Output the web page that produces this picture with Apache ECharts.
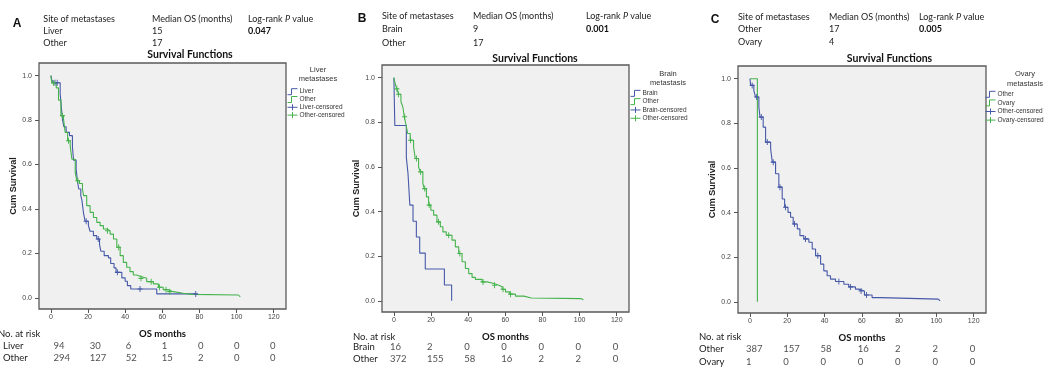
<!DOCTYPE html>
<html><head><meta charset="utf-8">
<script src="https://cdn.jsdelivr.net/npm/echarts@6/dist/echarts.min.js"></script>
<style>html,body{margin:0;padding:0;background:#fff}#c{width:1051px;height:368px}</style>
</head><body><div id="c"></div>
<script>
// ---------- data ----------
const xTicks = [0, 20, 40, 60, 80, 100, 120];
const yTicks = [0, 0.2, 0.4, 0.6, 0.8, 1.0];

// Panel A : Liver metastases  [months, cumulative survival]
const liverCurveA = [[0,1],[0.5,0.98],[1.5,0.968],[5.0,0.92],[5.6,0.86],[6.3,0.80],[7.0,0.77],[8.2,0.745],[10.0,0.73],[11.6,0.68],[12.2,0.62],[13.6,0.58],[14.3,0.525],[15.0,0.49],[16.1,0.46],[16.7,0.44],[17.6,0.38],[18.4,0.345],[20.2,0.325],[21.1,0.30],[22.9,0.28],[24.7,0.265],[26.2,0.24],[26.9,0.21],[28.7,0.19],[31.0,0.18],[32.2,0.155],[34.0,0.135],[35.1,0.115],[38.2,0.09],[40.0,0.075],[41.2,0.055],[43.0,0.04],[57.0,0.018],[78.0,0.018]];
const otherCurveA = [[0,1],[0.5,0.967],[2.9,0.945],[4.1,0.89],[5.4,0.82],[6.8,0.805],[7.7,0.744],[9.0,0.707],[10.4,0.684],[11.3,0.624],[13.1,0.564],[14.0,0.527],[15.4,0.515],[17.0,0.49],[17.6,0.46],[19.3,0.415],[21.1,0.385],[22.9,0.362],[24.7,0.34],[26.5,0.325],[28.3,0.31],[30.1,0.302],[31.9,0.287],[33.7,0.265],[35.5,0.228],[37.3,0.19],[39.0,0.16],[40.8,0.138],[42.6,0.118],[44.4,0.103],[46.2,0.097],[48.0,0.088],[51.6,0.073],[55.2,0.063],[57.9,0.048],[60.5,0.037],[63.2,0.028],[65.9,0.021],[71.3,0.016],[76.0,0.013],[101.0,0.004],[102.0,0.004]];
const liverCensA = [[2.2,0.968],[3.4,0.968],[19.0,0.345],[25.5,0.265],[35.8,0.115],[48.0,0.04],[78.0,0.018]];
const otherCensA = [[1.5,0.967],[6.2,0.82],[9.5,0.707],[14.5,0.527],[30.5,0.302],[36.5,0.228],[48.5,0.088],[54.0,0.073],[58.5,0.048],[62.0,0.037],[64.0,0.028]];
const riskLiverA = [94, 30, 6, 1, 0, 0, 0];
const riskOtherA = [294, 127, 52, 15, 2, 0, 0];

// Panel B : Brain metastasis
const brainCurveB = [[0,1],[0.5,0.786],[6.7,0.643],[7.6,0.571],[8.6,0.429],[10.3,0.357],[12.1,0.286],[13.9,0.214],[16.9,0.143],[27.2,0.071],[31.1,0]];
const otherCurveB = [[0,1],[0.7,0.973],[1.6,0.95],[2.5,0.926],[3.8,0.892],[4.8,0.87],[5.6,0.825],[6.6,0.787],[7.4,0.75],[8.8,0.72],[10.6,0.69],[11.5,0.638],[13.3,0.6],[14.2,0.578],[15.6,0.526],[16.4,0.503],[17.5,0.466],[18.7,0.429],[19.9,0.406],[21.4,0.384],[23.2,0.354],[25.0,0.332],[26.4,0.309],[28.2,0.294],[31.3,0.272],[33.1,0.242],[34.9,0.212],[36.7,0.175],[38.5,0.145],[40.3,0.122],[42.1,0.105],[43.9,0.096],[47.5,0.085],[50.2,0.078],[53.8,0.07],[56.5,0.063],[58.3,0.052],[60.1,0.04],[62.4,0.03],[65.5,0.021],[70.0,0.013],[74.0,0.01],[101.0,0.004],[102.0,0.004]];
const brainCensB = [];
const otherCensB = [[1.6,0.95],[2.5,0.926],[5.8,0.825],[9.0,0.72],[12.2,0.638],[14.4,0.578],[16.6,0.503],[19.0,0.429],[24.0,0.354],[29.5,0.294],[35.5,0.212],[48.0,0.085],[54.2,0.07],[58.8,0.052],[62.8,0.03]];
const riskBrainB = [16, 2, 0, 0, 0, 0, 0];
const riskOtherB = [372, 155, 58, 16, 2, 2, 0];

// Panel C : Ovary metastasis
const otherCurveC = [[0,1],[0.4,0.97],[2.1,0.947],[3.0,0.918],[4.8,0.873],[5.4,0.828],[7.1,0.783],[8.4,0.716],[11.1,0.686],[12.0,0.626],[13.75,0.574],[15.5,0.514],[17.3,0.461],[18.6,0.424],[20.4,0.401],[21.8,0.379],[23.2,0.349],[25.4,0.327],[26.8,0.297],[28.9,0.282],[31.6,0.267],[33.4,0.237],[35.2,0.207],[37.9,0.169],[39.6,0.139],[41.4,0.117],[43.2,0.102],[45.9,0.091],[50.4,0.079],[53.0,0.067],[56.6,0.057],[58.4,0.049],[61.4,0.031],[65.5,0.019],[70.0,0.012],[101.0,0.004],[102.0,0.004]];
const ovaryCurveC = [[0,1],[4,1],[4,0]];
const otherCensC = [[1.2,0.97],[3.6,0.918],[6.1,0.828],[9.3,0.716],[12.5,0.626],[16.1,0.514],[19.1,0.424],[23.9,0.349],[29.8,0.282],[36.4,0.207],[47.7,0.091],[53.9,0.067],[59.6,0.049],[62.5,0.031]];
const ovaryCensC = [];
const riskOtherC = [387, 157, 58, 16, 2, 2, 0];
const riskOvaryC = [1, 0, 0, 0, 0, 0, 0];

// header tables
const headerA = [['Site of metastases','Median OS (months)','Log-rank {i|P} value'],['Liver','15','{b|0.047}'],['Other','17','']];
const headerB = [['Site of metastases','Median OS (months)','Log-rank {i|P} value'],['Brain','9','{b|0.001}'],['Other','17','']];
const headerC = [['Site of metastases','Median OS (months)','Log-rank {i|P} value'],['Other','17','{b|0.005}'],['Ovary','4','']];

// ---------- styles / layout ----------
const BLUE = '#4659a8', GREEN = '#45b34c';
const XMIN = -6.4, XMAX = 126.6, YMIN = -0.05, YMAX = 1.057;
const CAL = 'Lato, "Open Sans", sans-serif';
const ARI = '"Liberation Sans", Arial, sans-serif';
const HF = 9; // header font size

const panels = [
  {key:'A', names:['Liver','Other'], colors:[BLUE,GREEN], curves:[liverCurveA,otherCurveA], cens:[liverCensA,otherCensA], risk:[riskLiverA,riskOtherA], header:headerA, legendTitle:['Liver','metastases'],
   L:{grid:{left:39,top:63,width:247,height:246}, risk:{top:339.4,height:25.2}, rowLabelX:-4, noRisk:[-2,334.3], letter:[17,23.3], cols:[43.3,152,248], rows:[18.7,31,42.7], sf:[190,55], lt:[318,70,79], lg:{left:287,top:87.8,lh:7.8}}},
  {key:'B', names:['Brain','Other'], colors:[BLUE,GREEN], curves:[brainCurveB,otherCurveB], cens:[brainCensB,otherCensB], risk:[riskBrainB,riskOtherB], header:headerB, legendTitle:['Brain','metastasis'],
   L:{grid:{left:382,top:65,width:247,height:247}, risk:{top:340.5,height:24.6}, rowLabelX:353, noRisk:[353,336.5], letter:[362,19], cols:[382,473,586], rows:[16,29.3,42.7], sf:[535,58.3], lt:[668,74,82.7], lg:{left:630,top:89.2,lh:8.3}}},
  {key:'C', names:['Other','Ovary'], colors:[BLUE,GREEN], curves:[otherCurveC,ovaryCurveC], cens:[otherCensC,ovaryCensC], risk:[riskOtherC,riskOvaryC], header:headerC, legendTitle:['Ovary','metastasis'],
   L:{grid:{left:738,top:66,width:248,height:247}, risk:{top:343.1,height:24.8}, rowLabelX:699, noRisk:[699,337.3], letter:[715,20], cols:[738,829,919], rows:[17,29.3,42], sf:[889.5,59], lt:[1025,73.5,83.5], lg:{left:985,top:90,lh:8.6}}}
];

const STEP_ICON = 'path://M0,6L4,6L4,0L10,0';
const CENS_ICON = 'path://M0,3L10,3M5,0L5,6';
const CENS_SYMBOL = 'path://M5,0L5,10M0,5L10,5';

const option = {animation:false, grid:[], xAxis:[], yAxis:[], series:[], legend:[], graphic:[]};

panels.forEach((p, pi) => {
  const L = p.L;
  const gi = option.grid.length;
  option.grid.push({left:L.grid.left, top:L.grid.top, width:L.grid.width, height:L.grid.height, show:true, backgroundColor:'#f0f0f0', borderColor:'#5a5a5a', borderWidth:1.3});
  option.grid.push({left:L.grid.left, top:L.risk.top, width:L.grid.width, height:L.risk.height});
  // main axes
  option.xAxis.push({gridIndex:gi, type:'value', min:XMIN, max:XMAX, position:'bottom', splitLine:{show:false}, axisLine:{show:false, onZero:false},
    axisTick:{show:true, customValues:xTicks, length:4, lineStyle:{color:'#555', width:1}},
    axisLabel:{customValues:xTicks, fontSize:7, color:'#444', fontFamily:ARI, margin:5},
    name:'OS months', nameLocation:'middle', nameGap:20, nameTextStyle:{fontFamily:CAL, fontWeight:'bold', fontSize:9.5, color:'#111'}});
  option.yAxis.push({gridIndex:gi, type:'value', min:YMIN, max:YMAX, position:'left', splitLine:{show:false}, axisLine:{show:false, onZero:false},
    axisTick:{show:true, customValues:yTicks, length:4, lineStyle:{color:'#555', width:1}},
    axisLabel:{customValues:yTicks, fontSize:7, color:'#444', fontFamily:ARI, margin:7, formatter:v=>v.toFixed(1)},
    name:'Cum Survival', nameLocation:'middle', nameGap:19, nameTextStyle:{fontFamily:ARI, fontWeight:'bold', fontSize:9, color:'#222'}});
  // risk table axes
  option.xAxis.push({gridIndex:gi+1, type:'value', min:XMIN, max:XMAX, show:false});
  option.yAxis.push({gridIndex:gi+1, type:'category', data:p.names, inverse:true, axisLine:{show:false}, axisTick:{show:false},
    axisLabel:{interval:0, align:'left', margin:L.grid.left - L.rowLabelX, fontSize:9.5, color:'#222', fontFamily:CAL}});

  const legendData = [];
  p.names.forEach((n, k) => {
    const c = p.colors[k];
    option.series.push({name:p.key+':'+n, type:'line', step:'end', xAxisIndex:gi, yAxisIndex:gi, data:p.curves[k],
      symbol:'none', lineStyle:{color:c, width:1.1}, itemStyle:{color:c}, z:3});
    legendData.push({name:p.key+':'+n, icon:STEP_ICON, itemStyle:{color:'transparent', borderColor:c, borderWidth:1}});
  });
  p.names.forEach((n, k) => {
    const c = p.colors[k];
    option.series.push({name:p.key+':'+n+'-censored', type:'scatter', xAxisIndex:gi, yAxisIndex:gi, data:p.cens[k],
      symbol:CENS_SYMBOL, symbolSize:[5,6], itemStyle:{color:'transparent', borderColor:c, borderWidth:1, opacity:1}, z:4});
    legendData.push({name:p.key+':'+n+'-censored', icon:CENS_ICON, itemStyle:{color:'transparent', borderColor:c, borderWidth:1}});
  });
  // risk numbers
  const riskData = [];
  p.risk.forEach((row, r) => row.forEach((v, i) => riskData.push([xTicks[i], r, v])));
  option.series.push({name:p.key+':risk', type:'scatter', xAxisIndex:gi+1, yAxisIndex:gi+1, data:riskData, symbolSize:1,
    itemStyle:{color:'transparent'}, silent:true,
    label:{show:true, position:'inside', offset:[-4,0], align:'left', verticalAlign:'middle', formatter:q=>String(q.value[2]), fontSize:9.5, color:'#222', fontFamily:CAL}});

  option.legend.push({orient:'vertical', left:L.lg.left, top:L.lg.top, padding:0, itemGap:0, itemWidth:10, itemHeight:6,
    selectedMode:false, data:legendData, formatter:name=>name.split(':')[1],
    textStyle:{fontSize:6.5, color:'#333', fontFamily:ARI, lineHeight:L.lg.lh, padding:[0,0,0,-3]}});

  // static texts
  const G = option.graphic;
  G.push({type:'text', x:L.letter[0], y:L.letter[1], style:{text:p.key, font:'bold 12px '+ARI, fill:'#111', align:'center', verticalAlign:'middle'}});
  p.header.forEach((row, r) => row.forEach((t, c) => {
    if (!t) return;
    G.push({type:'text', x:L.cols[c], y:L.rows[r], style:{text:t, font:HF+'px '+CAL, fill:'#222', verticalAlign:'middle',
      rich:{i:{font:'italic '+HF+'px '+CAL, fill:'#222'}, b:{font:'bold '+HF+'px '+CAL, fill:'#111'}}}});
  }));
  G.push({type:'text', x:L.sf[0], y:L.sf[1], style:{text:'Survival Functions', font:'bold 10.5px '+CAL, fill:'#111', align:'center', verticalAlign:'middle'}});
  G.push({type:'text', x:L.lt[0], y:L.lt[1], style:{text:p.legendTitle[0], font:'7.5px '+ARI, fill:'#333', align:'center', verticalAlign:'middle'}});
  G.push({type:'text', x:L.lt[0], y:L.lt[2], style:{text:p.legendTitle[1], font:'7.5px '+ARI, fill:'#333', align:'center', verticalAlign:'middle'}});
  G.push({type:'text', x:L.noRisk[0], y:L.noRisk[1], style:{text:'No. at risk', font:'9.5px '+CAL, fill:'#222', verticalAlign:'middle'}});
});

const chart = echarts.init(document.getElementById('c'), null, {renderer:'canvas'});
chart.setOption(option);
</script>
</body></html>
